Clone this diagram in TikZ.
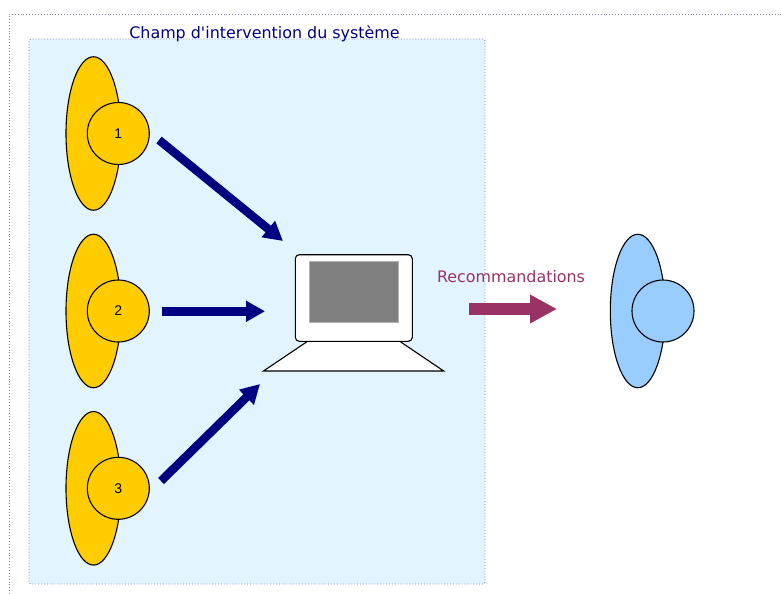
\documentclass[tikz,border=0pt]{standalone}
\usepackage{fontspec}
\newfontfamily\diagramfont{DejaVu Sans}
\newfontfamily\labelfont{Liberation Sans}
\usetikzlibrary{arrows.meta,shapes.geometric}
\definecolor{fieldblue}{HTML}{E2F4FF}
\definecolor{framedots}{HTML}{7F7FB0}
\definecolor{useryellow}{HTML}{FFCC00}
\definecolor{userblue}{HTML}{99CCFF}
\definecolor{recopurple}{HTML}{993366}
\definecolor{arrownavy}{HTML}{000080}

\begin{document}
\begin{tikzpicture}[x=1pt, y=-1pt, font=\diagramfont\fontsize{15.9}{19}\selectfont,
  frame/.style={draw=framedots, line width=0.9pt, dotted},
  field/.style={frame, fill=fieldblue, rounded corners=2pt},
  body/.style={draw, ellipse, line width=1.1pt, minimum width=55pt, minimum height=153.5pt, inner sep=0pt},
  head/.style={draw, circle, line width=1.1pt, minimum size=62pt, inner sep=0pt, font=\labelfont\fontsize{14}{16}\selectfont},
  flow/.style={draw=arrownavy, line width=8.5pt, -{Triangle[length=19pt, width=20pt, fill=arrownavy]}},
  reco/.style={draw=recopurple, line width=12.5pt, -{Triangle[length=27pt, width=27pt, fill=recopurple]}},
]
\useasboundingbox (0,0) rectangle (782,594);
\coordinate (framebottom) at (9,594);
\coordinate (framecorner) at (9,14);
\coordinate (frameright) at (782,14);
\draw[frame] (framebottom) -- (framecorner) -- (frameright);
\node[field, minimum width=456pt, minimum height=545pt, inner sep=0pt] (field) at (257,311.5) {};
\node[text=arrownavy] (fieldlabel) at (264.5,33.5) {Champ d'intervention du système};

% the three users
\node[body, fill=useryellow] (body1) at (93.5,133.5) {};
\node[head, fill=useryellow] (user1) at (118.3,133.5) {1};
\node[body, fill=useryellow] (body2) at (93.5,311) {};
\node[head, fill=useryellow] (user2) at (118.3,311) {2};
\node[body, fill=useryellow] (body3) at (93.5,488.3) {};
\node[head, fill=useryellow] (user3) at (118.3,488.3) {3};

% computer
\draw[fill=white, line width=1.1pt] (308,341) -- (399.3,341) -- (443.7,371) -- (263.5,371) -- cycle;
\node[draw, fill=white, rounded corners=4pt, line width=1.1pt, minimum width=117pt, minimum height=86.6pt, inner sep=0pt] (computer) at (353.8,298) {};
\node[draw=gray!60, fill=gray, line width=0.8pt, minimum width=89.3pt, minimum height=60.7pt, inner sep=0pt] (screen) at (353.6,291.6) {};

% receiver
\node[body, fill=userblue] (body4) at (637.8,311) {};
\node[head, fill=userblue] (user4) at (663,311) {};

\coordinate (from1) at (159,140);
\coordinate (to1) at (283,241);
\coordinate (from2) at (162,311.3);
\coordinate (to2) at (265,311.3);
\coordinate (from3) at (161,481);
\coordinate (to3) at (260,384);
\coordinate (fromreco) at (469,309);
\coordinate (toreco) at (557,309);
\draw[flow] (from1) -- (to1);
\draw[flow] (from2) -- (to2);
\draw[flow] (from3) -- (to3);
\draw[reco] (fromreco) -- (toreco);
\node[text=recopurple] (recolabel) at (511,277) {Recommandations};
\end{tikzpicture}
\end{document}
